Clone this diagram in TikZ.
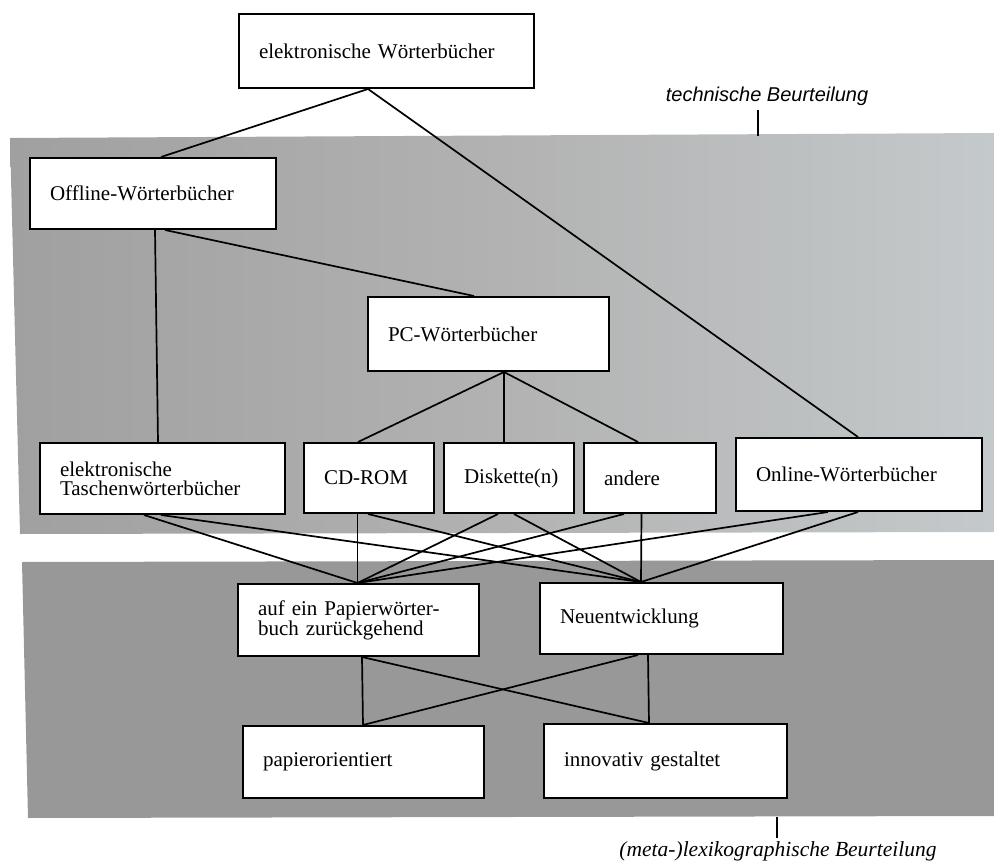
\documentclass[tikz,border=0pt]{standalone}
\usepackage{fontspec}
\setmainfont{Liberation Serif}
\newfontfamily\labsans{Liberation Sans}
\definecolor{bandL}{RGB}{160,160,160}
\definecolor{bandM}{RGB}{178,178,178}
\definecolor{bandR}{RGB}{196,201,203}
\definecolor{bandLow}{RGB}{152,152,152}
\pgfdeclarelayer{bg}
\pgfdeclarelayer{mid}
\pgfsetlayers{bg,mid,main}
\begin{document}
\begin{tikzpicture}[x=1pt,y=-1pt,
  boxnode/.style={draw, line width=2pt, fill=white, align=left,
    inner xsep=20pt, inner ysep=0pt, anchor=north west,
    font=\fontsize{21}{19}\selectfont,
    execute at begin node={\hyphenpenalty=10000\exhyphenpenalty=10000}},
  conn/.style={line width=1.7pt},
  tick/.style={line width=1.5pt},
  toplabel/.style={font=\labsans\itshape\fontsize{20}{22}\selectfont, inner sep=0pt},
  botlabel/.style={font=\itshape\fontsize{21.5}{23}\selectfont, inner sep=0pt}]
\useasboundingbox (0,0) rectangle (994,861);

% gray bands
\begin{pgfonlayer}{bg}
  \shade[left color=bandL, right color=bandR, middle color=bandM] (10,138) -- (994,133) -- (994,532) -- (20,534) -- cycle;
  \fill[bandLow] (22,562) -- (994,560) -- (994,816) -- (28,818) -- cycle;
\end{pgfonlayer}

% boxes
\node[boxnode, text width=255pt, minimum height=74pt] (top) at (238,13) {elektronische Wörterbücher};
\node[boxnode, text width=206pt, minimum height=71pt] (off) at (29,157) {Offline-Wörterbücher};
\node[boxnode, text width=201pt, minimum height=74pt] (pc) at (367,296) {PC-Wörterbücher};
\node[boxnode, text width=205pt, minimum height=71pt] (tas) at (39,442) {elektronische\\Taschenwörterbücher};
\node[boxnode, text width=90pt, minimum height=70pt] (cd) at (303,442) {CD-ROM};
\node[boxnode, text width=90pt, minimum height=70pt] (dis) at (443,442) {Diskette(n)};
\node[boxnode, text width=92pt, minimum height=70pt] (and) at (583,442) {andere};
\node[boxnode, text width=206pt, minimum height=73pt] (onl) at (735,437) {Online-Wörterbücher};
\node[boxnode, text width=201pt, minimum height=72pt] (auf) at (237,583) {auf ein Papierwörter-\\buch zurückgehend};
\node[boxnode, text width=203pt, minimum height=71pt] (neu) at (539,582) {Neuentwicklung};
\node[boxnode, text width=201pt, minimum height=72pt] (pap) at (242,725) {papierorientiert};
\node[boxnode, text width=203pt, minimum height=74pt] (inn) at (543,723) {innovativ gestaltet};

% labels
\node[toplabel] (tlab) at (767,96) {technische Beurteilung};
\node[botlabel] (blab) at (778,851) {(meta-)lexikographische Beurteilung};
\coordinate (tk1a) at (758,110);
\coordinate (tk1b) at (758,136);
\coordinate (tk2a) at (777,817);
\coordinate (tk2b) at (777,838);

\begin{pgfonlayer}{mid}
  \draw[tick] (tk1a) -- (tk1b);
  \draw[tick] (tk2a) -- (tk2b);
  % upper tree
  \draw[conn] ([xshift=-18.5pt]top.south) -- ([xshift=8pt]off.north);
  \draw[conn] ([xshift=-18.5pt]top.south) -- ([xshift=-1pt]onl.north);
  \draw[conn] ([xshift=2pt]off.south) -- ([xshift=-4.5pt]tas.north);
  \draw[conn] ([xshift=12pt]off.south) -- ([xshift=-14.5pt]pc.north);
  \draw[conn] ([xshift=15.5pt]pc.south) -- ([xshift=-11pt]cd.north);
  \draw[conn] ([xshift=15.5pt]pc.south) -- ([xshift=-5pt]dis.north);
  \draw[conn] ([xshift=15.5pt]pc.south) -- ([xshift=-12pt]and.north);
  % middle crossings
  \draw[conn] ([xshift=-18.5pt]tas.south) -- ([xshift=-1pt]auf.north);
  \draw[conn] ([xshift=-1.5pt]tas.south) -- ([xshift=-20.5pt]neu.north);
  \draw[conn] ([xshift=-11.5pt]cd.south) -- ([xshift=-1pt]auf.north);
  \draw[conn] ([xshift=-1pt]cd.south) -- ([xshift=-20.5pt]neu.north);
  \draw[conn] ([xshift=-11pt]dis.south) -- ([xshift=-1pt]auf.north);
  \draw[conn] ([xshift=5pt]dis.south) -- ([xshift=-20.5pt]neu.north);
  \draw[conn] ([xshift=-26pt]and.south) -- ([xshift=-1pt]auf.north);
  \draw[conn] ([xshift=-8.5pt]and.south) -- ([xshift=-20.5pt]neu.north);
  \draw[conn] ([xshift=-31pt]onl.south) -- ([xshift=-1pt]auf.north);
  \draw[conn] ([xshift=-1pt]onl.south) -- ([xshift=-20.5pt]neu.north);
  % lower crossings
  \draw[conn] ([xshift=3.5pt]auf.south) -- ([xshift=-0.5pt]pap.north);
  \draw[conn] ([xshift=3.5pt]auf.south) -- ([xshift=-16.5pt]inn.north);
  \draw[conn] ([xshift=-23.5pt]neu.south) -- ([xshift=-0.5pt]pap.north);
  \draw[conn] ([xshift=-13.5pt]neu.south) -- ([xshift=-16.5pt]inn.north);
\end{pgfonlayer}
\end{tikzpicture}
\end{document}
